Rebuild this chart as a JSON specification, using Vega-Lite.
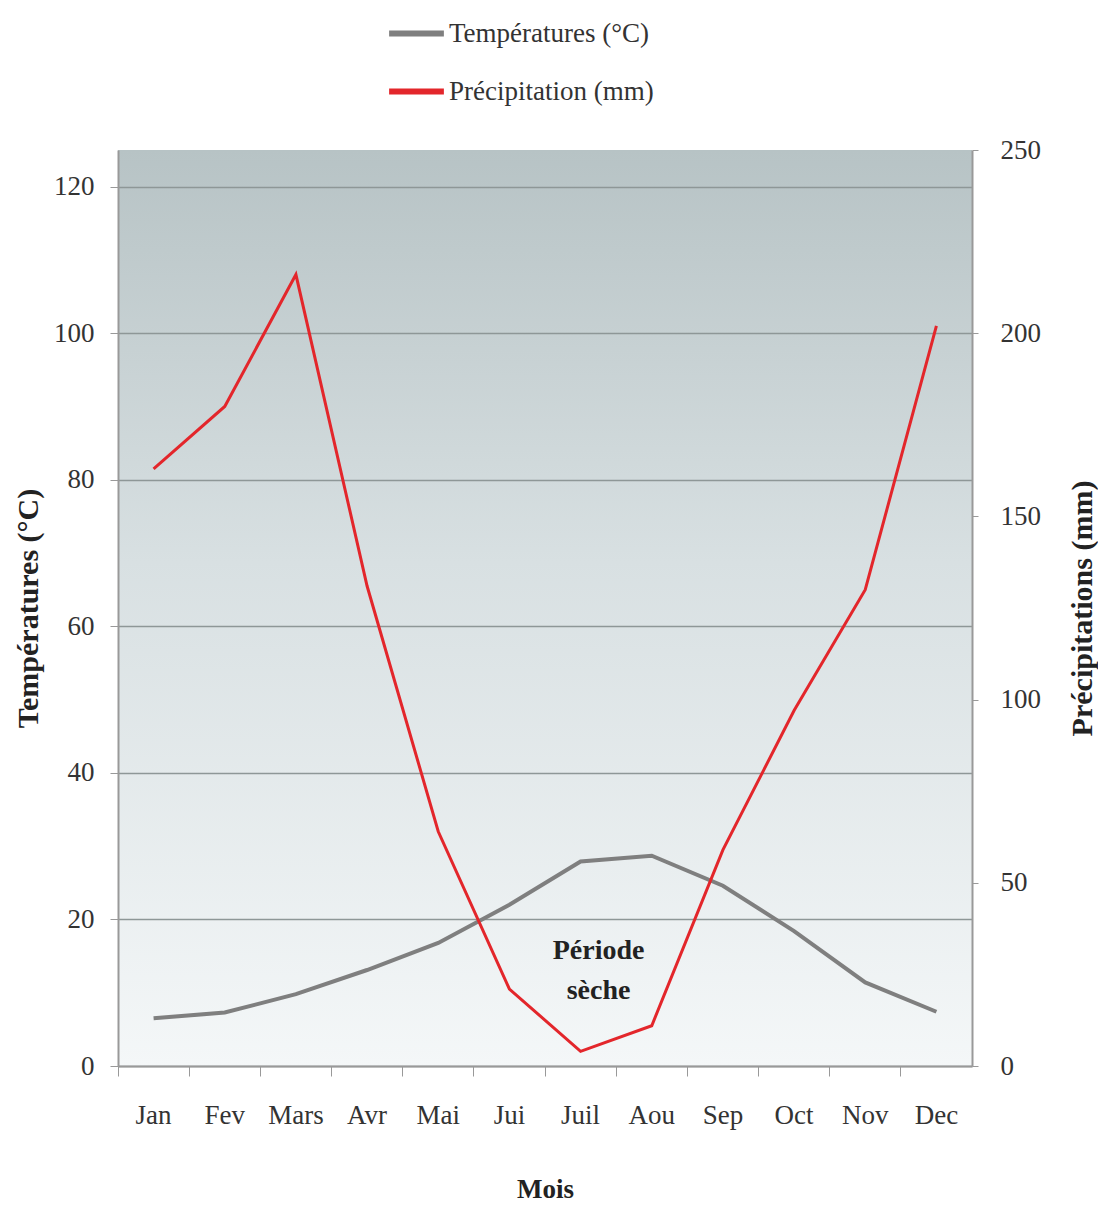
{
  "$schema": "https://vega.github.io/schema/vega-lite/v6.json",
  "width": 854,
  "height": 916,
  "autosize": "none",
  "padding": {"left": 118, "top": 150, "right": 126, "bottom": 144},
  "background": "white",
  "config": {
    "font": "Liberation Serif",
    "view": {
      "stroke": null,
      "fill": {
        "gradient": "linear",
        "x1": 0, "y1": 0, "x2": 0, "y2": 1,
        "stops": [
          {"offset": 0, "color": "#b7c3c5"},
          {"offset": 0.45, "color": "#d8e0e2"},
          {"offset": 1, "color": "#f4f7f8"}
        ]
      }
    },
    "axis": {
      "labelFont": "Liberation Serif",
      "titleFont": "Liberation Serif",
      "labelFontSize": 27,
      "titleFontSize": 30,
      "labelColor": "#333333",
      "titleColor": "#222222",
      "domainColor": "#999999",
      "tickColor": "#999999",
      "gridColor": "#8e9797",
      "gridWidth": 1.5
    }
  },
  "data": {
    "values": [
      {"Mois": "Jan", "Temp": 6.5, "Precip": 163},
      {"Mois": "Fev", "Temp": 7.3, "Precip": 180},
      {"Mois": "Mars", "Temp": 9.8, "Precip": 216},
      {"Mois": "Avr", "Temp": 13.1, "Precip": 131},
      {"Mois": "Mai", "Temp": 16.8, "Precip": 64},
      {"Mois": "Jui", "Temp": 22, "Precip": 21},
      {"Mois": "Juil", "Temp": 27.9, "Precip": 4},
      {"Mois": "Aou", "Temp": 28.7, "Precip": 11},
      {"Mois": "Sep", "Temp": 24.6, "Precip": 59},
      {"Mois": "Oct", "Temp": 18.4, "Precip": 97},
      {"Mois": "Nov", "Temp": 11.4, "Precip": 130},
      {"Mois": "Dec", "Temp": 7.4, "Precip": 202}
    ]
  },
  "encoding": {
    "x": {
      "field": "Mois",
      "type": "nominal",
      "sort": null,
      "scale": {"type": "band", "paddingInner": 0, "paddingOuter": 0},
      "axis": {
        "title": "Mois",
        "titleFontWeight": "bold",
        "titleFontSize": 27,
        "titlePadding": 48,
        "labelAngle": 0,
        "bandPosition": 0,
        "tickSize": 10,
        "labelPadding": 26,
        "grid": false,
        "domainWidth": 2
      }
    }
  },
  "layer": [
    {
      "mark": {"type": "line", "strokeWidth": 4},
      "encoding": {
        "y": {
          "field": "Temp",
          "type": "quantitative",
          "scale": {"domain": [0, 125], "nice": false},
          "axis": {
            "title": "Températures (°C)",
            "titleFontWeight": "bold",
            "values": [0, 20, 40, 60, 80, 100, 120],
            "grid": true,
            "tickSize": 8,
            "labelPadding": 16,
            "titlePadding": 10,
            "domainWidth": 2
          }
        },
        "color": {
          "datum": "Températures (°C)",
          "type": "nominal",
          "scale": {
            "domain": ["Températures (°C)", "Précipitation (mm)"],
            "range": ["#7f7f7f", "#e3262b"]
          },
          "legend": {
            "title": null,
            "orient": "none",
            "legendX": 268,
            "legendY": -147,
            "direction": "vertical",
            "symbolType": "stroke",
            "symbolStrokeWidth": 6,
            "symbolSize": 3000,
            "labelFontSize": 27,
            "labelFont": "Liberation Serif",
            "labelColor": "#333333",
            "labelLimit": 400,
            "labelOffset": 2,
            "rowPadding": 14
          }
        }
      }
    },
    {
      "mark": {"type": "line", "strokeWidth": 3},
      "encoding": {
        "y": {
          "field": "Precip",
          "type": "quantitative",
          "scale": {"domain": [0, 250], "nice": false},
          "axis": {
            "orient": "right",
            "title": "Précipitations (mm)",
            "titleFontWeight": "bold",
            "titleAngle": 270,
            "values": [0, 50, 100, 150, 200, 250],
            "grid": false,
            "tickSize": 6,
            "labelPadding": 22,
            "titlePadding": 57,
            "domainWidth": 2
          }
        },
        "color": {"datum": "Précipitation (mm)", "type": "nominal"}
      }
    },
    {
      "data": {"values": [{"Mois": "Juil", "Label": "Période\nsèche", "T": 15.7}]},
      "mark": {
        "type": "text",
        "fontSize": 28,
        "fontWeight": "bold",
        "font": "Liberation Serif",
        "color": "#222222",
        "lineBreak": "\n",
        "lineHeight": 40,
        "dx": 18,
        "baseline": "middle"
      },
      "encoding": {
        "y": {"field": "T", "type": "quantitative", "scale": {"domain": [0, 125], "nice": false}, "axis": null},
        "text": {"field": "Label"}
      }
    }
  ],
  "resolve": {"scale": {"y": "independent"}}
}
